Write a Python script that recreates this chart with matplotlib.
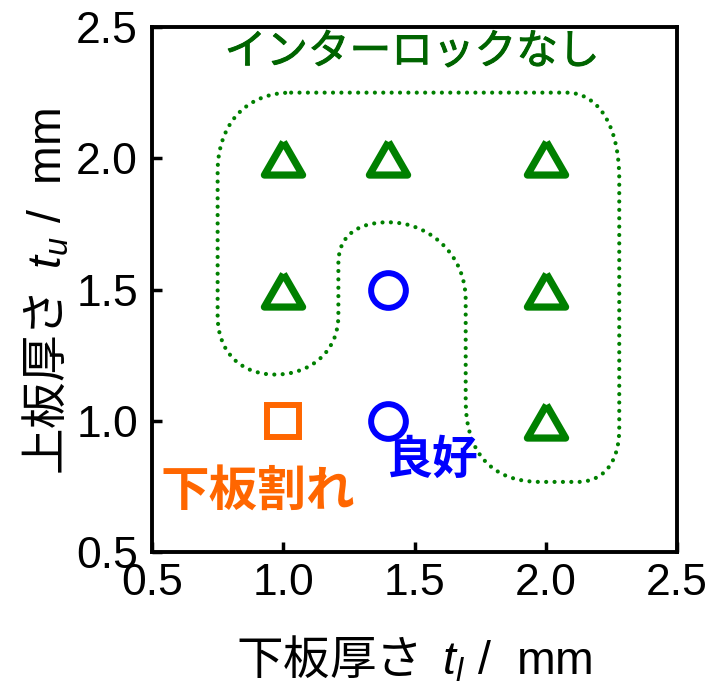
import matplotlib
matplotlib.use("Agg")
import matplotlib.pyplot as plt
import matplotlib.patheffects as pe
from matplotlib.path import Path
from matplotlib.patches import PathPatch
from matplotlib.markers import MarkerStyle

# ---- data ----
tri_x = [1.0, 1.4, 2.0, 1.0, 2.0, 2.0]
tri_y = [2.0, 2.0, 2.0, 1.5, 1.5, 1.0]
circ_x = [1.4, 1.4]
circ_y = [1.5, 1.0]
sq_x = [1.0]
sq_y = [1.0]

xticks = [0.5, 1.0, 1.5, 2.0, 2.5]
yticks = [0.5, 1.0, 1.5, 2.0, 2.5]
xticklabels = ["0.5", "1.0", "1.5", "2.0", "2.5"]
yticklabels = ["0.5", "1.0", "1.5", "2.0", "2.5"]

# boundary of the "no interlock" region (data coords, cubic Bezier segments)
boundary_verts = [
    (1.03, 2.25),
    (2.08, 2.25),
    (2.19, 2.25), (2.28, 2.14), (2.28, 1.92),
    (2.28, 0.97),
    (2.28, 0.84), (2.22, 0.767), (2.12, 0.767),
    (1.98, 0.767),
    (1.80, 0.767), (1.695, 0.87), (1.695, 1.08),
    (1.695, 1.46),
    (1.695, 1.63), (1.56, 1.756), (1.40, 1.756),
    (1.29, 1.756), (1.21, 1.71), (1.21, 1.60),
    (1.21, 1.40),
    (1.21, 1.26), (1.10, 1.176), (0.97, 1.176),
    (0.84, 1.176), (0.75, 1.26), (0.75, 1.40),
    (0.75, 1.95),
    (0.75, 2.12), (0.85, 2.25), (1.03, 2.25),
]
boundary_codes = ([Path.MOVETO, Path.LINETO] + [Path.CURVE4] * 3 + [Path.LINETO]
                  + [Path.CURVE4] * 3 + [Path.LINETO] + [Path.CURVE4] * 3
                  + [Path.LINETO] + [Path.CURVE4] * 6 + [Path.LINETO]
                  + [Path.CURVE4] * 6 + [Path.LINETO] + [Path.CURVE4] * 3)

# ---- style ----
plt.rcParams['font.family'] = ['Liberation Sans', 'Noto Sans CJK JP']
plt.rcParams['mathtext.fontset'] = 'custom'
plt.rcParams['mathtext.rm'] = 'Liberation Sans'
plt.rcParams['mathtext.it'] = 'Liberation Sans:italic'
plt.rcParams['mathtext.bf'] = 'Liberation Sans:bold'

fig = plt.figure(figsize=(7.08, 6.98), dpi=100)
ax = fig.add_axes([152 / 708, 146 / 698, 525 / 708, 525 / 698])

ax.set_xlim(0.5, 2.5)
ax.set_ylim(0.5, 2.5)

for s in ax.spines.values():
    s.set_linewidth(2.8)

ax.set_xticks(xticks)
ax.set_xticklabels(xticklabels)
ax.set_yticks(yticks)
ax.set_yticklabels(yticklabels)
ax.tick_params(axis='x', direction='in', length=7.2, width=2.5, labelsize=32, pad=8)
ax.tick_params(axis='y', direction='in', length=7.2, width=2.5, labelsize=32, pad=10)

# boundary
patch = PathPatch(Path(boundary_verts, boundary_codes), facecolor='none',
                  edgecolor='#008000', lw=3.0, linestyle=(0, (0.01, 2.0)),
                  capstyle='round', zorder=2)
ax.add_patch(patch)

# markers
tri_marker = MarkerStyle([(0, 0.5), (-0.577, -0.5), (0.577, -0.5), (0, 0.5)],
                         joinstyle='round')
ax.plot(tri_x, tri_y, linestyle='none', marker=tri_marker, markersize=27.5,
        markerfacecolor='none', markeredgecolor='#008000', markeredgewidth=5.2, zorder=3)
ax.plot(circ_x, circ_y, linestyle='none', marker='o', markersize=25,
        markerfacecolor='none', markeredgecolor='#0000FF', markeredgewidth=4.3, zorder=3)
ax.plot(sq_x, sq_y, linestyle='none', marker='s', markersize=22.7,
        markerfacecolor='none', markeredgecolor='#FF6600', markeredgewidth=4.3, zorder=3)

# annotations
ax.text(1.49, 2.403, "インターロックなし", color='#006400', fontsize=30,
        family='Noto Sans CJK JP', weight='normal', ha='center', va='center',
        path_effects=[pe.withStroke(linewidth=0.7, foreground='#006400')])
ax.text(0.903, 0.733, "下板割れ", color='#FF6600', fontsize=35,
        family='Noto Sans CJK JP', weight='bold', ha='center', va='center')
ax.text(1.565, 0.847, "良好", color='#0000FF', fontsize=33,
        family='Noto Sans CJK JP', weight='bold', ha='center', va='center')

# axis labels
ax.set_xlabel(r"下板厚さ  $t_{l}\ \mathrm{/}\ \ \mathrm{mm}$", fontsize=33.5,
              family='Noto Sans CJK JP', va='baseline')
ax.xaxis.set_label_coords(0.5, (552 - 675) / 525)
ax.set_ylabel(r"上板厚さ  $t_{u}\ \mathrm{/}\ \ \mathrm{mm}$", fontsize=33.5,
              family='Noto Sans CJK JP', va='baseline', ha='center',
              rotation=90, rotation_mode='anchor')
ax.yaxis.set_label_coords((62 - 152) / 525, (552 - 291) / 525)

fig.savefig("out.png", dpi=100)
